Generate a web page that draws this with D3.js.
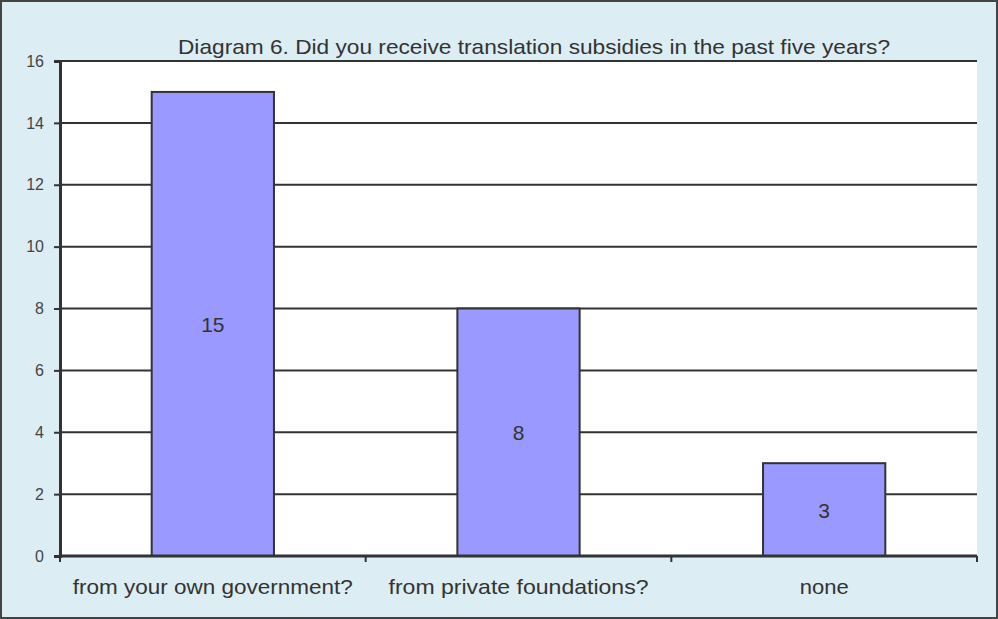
<!DOCTYPE html>
<html><head><meta charset="utf-8">
<script src="https://cdn.jsdelivr.net/npm/d3@7"></script>
<style>html,body{margin:0;padding:0;background:#fff;}svg{display:block;}</style>
</head><body>
<script>
const categories = ["from your own government?", "from private foundations?", "none"];
const values = [15, 8, 3];
const yTicks = [0, 2, 4, 6, 8, 10, 12, 14, 16];
const title = "Diagram 6. Did you receive translation subsidies in the past five years?";
const labelWidths = [280, 260, 49];

const W = 998, H = 619;
const m = {left: 60, right: 21, top: 61, bottom: 63};
const svg = d3.select("body").append("svg").attr("width", W).attr("height", H);
const font = "'Liberation Sans', Arial, sans-serif";
svg.append("rect").attr("x", 1).attr("y", 1).attr("width", W - 2).attr("height", H - 2)
  .attr("fill", "#dcedf3").attr("stroke", "#444").attr("stroke-width", 2);

const x = d3.scaleBand().domain(categories).range([m.left, W - m.right]).paddingInner(0).paddingOuter(0);
const y = d3.scaleLinear().domain([0, 16]).range([H - m.bottom, m.top]);

svg.append("rect").attr("x", m.left).attr("y", m.top).attr("width", W - m.right - m.left)
  .attr("height", H - m.bottom - m.top).attr("fill", "#fff");

// gridlines
svg.append("g").selectAll("line").data(yTicks).join("line")
  .attr("x1", m.left).attr("x2", W - m.right)
  .attr("y1", d => y(d)).attr("y2", d => y(d))
  .attr("stroke", "#333").attr("stroke-width", 2);

// bars
const bw = x.bandwidth() * 0.4;
svg.append("g").selectAll("rect").data(values).join("rect")
  .attr("x", (d, i) => x(categories[i]) + (x.bandwidth() - bw) / 2)
  .attr("width", bw)
  .attr("y", d => y(d)).attr("height", d => y(0) - y(d))
  .attr("fill", "#9999ff").attr("stroke", "#333").attr("stroke-width", 2);

// value labels
svg.append("g").selectAll("text").data(values).join("text")
  .attr("x", (d, i) => x(categories[i]) + x.bandwidth() / 2)
  .attr("y", d => (y(d) + y(0)) / 2 + 8)
  .attr("text-anchor", "middle").attr("font-family", font).attr("font-size", 21)
  .attr("fill", "#333").text(d => d);

// y axis
const yAxis = d3.axisLeft(y).tickValues(yTicks).tickSize(6).tickPadding(10);
const gy = svg.append("g").attr("transform", `translate(${m.left},0)`).call(yAxis);
gy.select(".domain").attr("stroke", "#333").attr("stroke-width", 3);
gy.selectAll(".tick line").attr("stroke", "#333").attr("stroke-width", 2);
gy.selectAll(".tick text").attr("font-family", font).attr("font-size", 16).attr("fill", "#444");

// x axis
const xAxis = d3.axisBottom(x).tickSize(0).tickPadding(23);
const gx = svg.append("g").attr("transform", `translate(0,${H - m.bottom})`).call(xAxis);
gx.select(".domain").remove();
gx.selectAll(".tick text").attr("font-family", font).attr("font-size", 21).attr("fill", "#333")
  .attr("textLength", (d, i) => labelWidths[i]).attr("lengthAdjust", "spacingAndGlyphs");
const bounds = categories.map(c => x(c)).concat([W - m.right]);
gx.append("g").selectAll("line").data(bounds).join("line")
  .attr("x1", d => d).attr("x2", d => d).attr("y1", 0).attr("y2", 6)
  .attr("stroke", "#333").attr("stroke-width", 2);
gx.append("line").attr("x1", m.left).attr("x2", W - m.right).attr("y1", 0).attr("y2", 0)
  .attr("stroke", "#333").attr("stroke-width", 3);

svg.append("text").attr("x", 534).attr("y", 54).attr("text-anchor", "middle")
  .attr("font-family", font).attr("font-size", 21).attr("fill", "#333")
  .attr("textLength", 712).attr("lengthAdjust", "spacingAndGlyphs").text(title);
</script>
</body></html>
